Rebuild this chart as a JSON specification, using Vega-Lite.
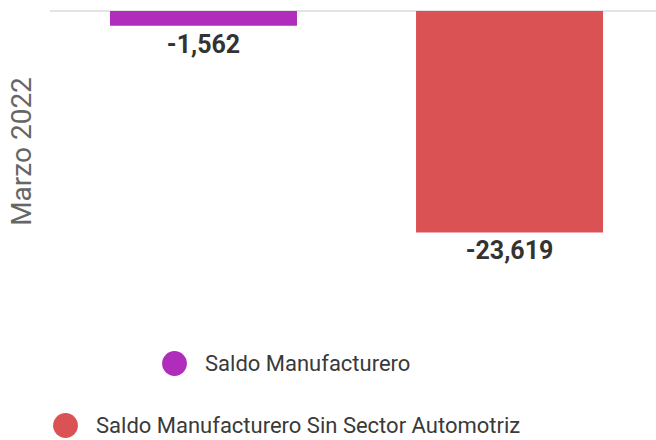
{
  "$schema": "https://vega.github.io/schema/vega-lite/v6.json",
  "width": 613,
  "height": 280,
  "autosize": "none",
  "padding": {"left": 50, "top": 11, "right": 0, "bottom": 149},
  "background": "white",
  "config": {
    "font": "Roboto",
    "view": {"stroke": null},
    "locale": {"number": {"decimal": ".", "thousands": ",", "grouping": [3], "currency": ["$", ""], "minus": "-"}},
    "legend": {
      "title": null,
      "symbolType": "circle",
      "symbolSize": 615,
      "symbolStrokeWidth": 0,
      "symbolOpacity": 1,
      "labelFontSize": 22,
      "labelColor": "#3a3a3a",
      "labelOffset": 18,
      "padding": 0,
      "labelLimit": 600
    }
  },
  "data": {
    "values": [
      {"serie": "Saldo Manufacturero", "valor": -1562},
      {"serie": "Saldo Manufacturero Sin Sector Automotriz", "valor": -23619}
    ]
  },
  "layer": [
    {
      "mark": {"type": "rule", "color": "#e2e2e2", "strokeWidth": 1.5},
      "encoding": {"y": {"datum": 0, "type": "quantitative"}}
    },
    {
      "transform": [{"filter": "datum.serie === 'Saldo Manufacturero'"}],
      "mark": {"type": "bar"},
      "encoding": {
        "x": {"field": "serie", "type": "nominal", "axis": null,
              "scale": {"domain": ["Saldo Manufacturero", "Saldo Manufacturero Sin Sector Automotriz"], "paddingInner": 0.389, "paddingOuter": 0.196}},
        "y": {"field": "valor", "type": "quantitative",
              "scale": {"domain": [-29860, 0], "nice": false, "zero": true},
              "axis": {"title": "Marzo 2022", "labels": false, "ticks": false, "domain": false, "grid": false,
                       "titleFontSize": 28, "titleFontWeight": "normal", "titleColor": "#666666", "titlePadding": 14, "minExtent": 0}},
        "color": {"field": "serie", "type": "nominal",
                  "scale": {"domain": ["Saldo Manufacturero"], "range": ["#B02CBA"]},
                  "legend": {"orient": "none", "legendX": 112, "legendY": 340}}
      }
    },
    {
      "transform": [{"filter": "datum.serie !== 'Saldo Manufacturero'"}],
      "mark": {"type": "bar"},
      "encoding": {
        "x": {"field": "serie", "type": "nominal", "axis": null},
        "y": {"field": "valor", "type": "quantitative"},
        "color": {"field": "serie", "type": "nominal",
                  "scale": {"domain": ["Saldo Manufacturero Sin Sector Automotriz"], "range": ["#DB5254"]},
                  "legend": {"orient": "none", "legendX": 3, "legendY": 402}}
      }
    },
    {
      "mark": {"type": "text", "baseline": "top", "dy": 7, "fontSize": 25, "fontWeight": "bold", "color": "#333333"},
      "encoding": {
        "x": {"field": "serie", "type": "nominal", "axis": null},
        "y": {"field": "valor", "type": "quantitative"},
        "text": {"field": "valor", "type": "quantitative", "format": ","}
      }
    }
  ],
  "resolve": {"scale": {"color": "independent"}, "legend": {"color": "independent"}}
}
